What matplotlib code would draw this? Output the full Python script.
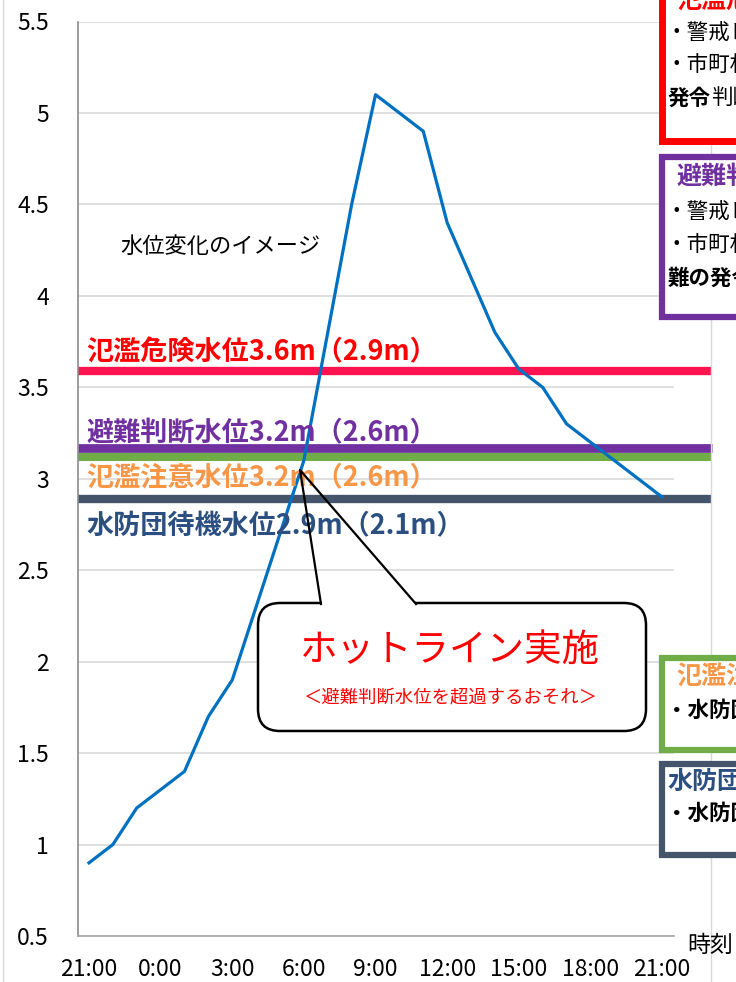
import numpy as np
import matplotlib.pyplot as plt
from matplotlib.patches import FancyBboxPatch, Rectangle

plt.rcParams['font.family'] = ['Noto Sans CJK JP', 'DejaVu Sans']

# --- data ---
hours = np.arange(0, 25)  # hours after 21:00
water_level = [0.9, 1.0, 1.2, 1.3, 1.4, 1.7, 1.9, 2.3, 2.7, 3.1, 3.8, 4.5, 5.1,
               5.0, 4.9, 4.4, 4.1, 3.8, 3.6, 3.5, 3.3, 3.2, 3.1, 3.0, 2.9]
tick_pos = np.arange(0, 25, 3)
tick_labels = ["21:00", "0:00", "3:00", "6:00", "9:00", "12:00", "15:00", "18:00", "21:00"]

level_values = [3.59, 3.17, 3.12, 2.89]
level_colors = ["#FF1450", "#7030A0", "#70AD47", "#44546A"]
level_widths = [6.0, 6.3, 5.8, 6.0]
level_texts = ["氾濫危険水位3.6m（2.9m）", "避難判断水位3.2m（2.6m）",
               "氾濫注意水位3.2m（2.6m）", "水防団待機水位2.9m（2.1m）"]
level_text_colors = ["#FF0000", "#7030A0", "#F79646", "#2B4F80"]
level_text_y = [3.69, 3.25, 3.01, 2.74]

W, H = 736, 982
fig = plt.figure(figsize=(W / 100, H / 100), dpi=100)
ax = fig.add_axes([78 / W, 1 - 936 / H, (674 - 78) / W, (936 - 21.5) / H])

ax.set_xlim(-0.46, 24.5)
ax.set_ylim(0.5, 5.5)
ax.set_yticks(np.arange(0.5, 5.51, 0.5))
ax.set_yticklabels(["0.5", "1", "1.5", "2", "2.5", "3", "3.5", "4", "4.5", "5", "5.5"])
ax.set_xticks(tick_pos)
ax.set_xticklabels(tick_labels)
ax.tick_params(axis='both', length=0, labelsize=16.5)
ax.tick_params(axis='y', pad=21)
ax.tick_params(axis='x', pad=16)
ax.grid(axis='y', color="#D9D9D9", lw=1.2)
ax.set_axisbelow(True)
for s in ["top", "right"]:
    ax.spines[s].set_visible(False)
ax.spines["left"].set_color("#8C8C8C")
ax.spines["bottom"].set_color("#A6A6A6")
ax.spines["left"].set_linewidth(1.2)
ax.spines["bottom"].set_linewidth(1.2)

for v, c, lw in zip(level_values, level_colors, level_widths):
    ax.axhline(v, xmin=0, xmax=(712 - 78) / (674 - 78), color=c, lw=lw,
               clip_on=False, zorder=2, solid_capstyle='butt')

ax.plot(hours, water_level, color="#0070C0", lw=2.3, zorder=3)

for t, c, y in zip(level_texts, level_text_colors, level_text_y):
    ax.text(-0.1, y, t, color=c, fontsize=19.5, fontweight='bold', zorder=4,
            va='center', ha='left')

ax.text(1.3, 4.27, "水位変化のイメージ", fontsize=16, va='center', zorder=4)

# --- overlay in pixel coordinates ---
ov = fig.add_axes([0, 0, 1, 1], facecolor='none', zorder=5)
ov.set_xlim(0, W)
ov.set_ylim(H, 0)
ov.axis('off')

ov.plot([3, 3], [0, H], color="#D9D9D9", lw=1)
ov.plot([711, 711], [0, H], color="#D9D9D9", lw=1)
ov.text(687, 945, "時刻", fontsize=16.5, va='center', ha='left')

# callout
box = FancyBboxPatch((258, 603), 388, 128, boxstyle="round,pad=0,rounding_size=22",
                     fc="white", ec="black", lw=1.8, zorder=6)
ov.add_patch(box)
ov.plot([322, 415], [603, 603], color="white", lw=3, zorder=7,
        solid_capstyle='butt')
ov.plot([321, 300, 416], [604, 470, 604], color="black", lw=1.6, zorder=8)
ov.text(450, 650, "ホットライン実施", color="#FF0000", fontsize=27, ha='center',
        va='center', zorder=9)
ov.text(450, 697, "＜避難判断水位を超過するおそれ＞", color="#FF0000", fontsize=13.2,
        ha='center', va='center', zorder=9)

# right-side boxes
boxes = [(-20, 141, "#FF0000", 5.0), (157, 317, "#7030A0", 4.5),
         (658, 750, "#70AD47", 4.5), (764, 855, "#44546A", 4.5)]
for y0, y1, c, lw in boxes:
    ov.add_patch(Rectangle((661.5, y0), 200, y1 - y0, fc="white", ec=c, lw=lw,
                           zorder=6, clip_on=False))

def tx(x, y, s, **kw):
    ov.text(x, y, s, va='center', ha='left', zorder=9, **kw)

tx(676, 2, "氾濫危険水位", color="#FF0000", fontsize=18, fontweight='bold')
tx(666, 33, "・警戒レベル4相当", fontsize=15.5)
tx(666, 65, "・市町村長の避難指示の", fontsize=15.5)
tx(668, 98, "発令", fontsize=15.5, fontweight='bold')
tx(711, 98, "判断の目安", fontsize=15.5)

tx(676, 177, "避難判断水位", color="#7030A0", fontsize=18, fontweight='bold')
tx(666, 212, "・警戒レベル3相当", fontsize=15.5)
tx(666, 245, "・市町村長の高齢者等避", fontsize=15.5)
tx(668, 278, "難の発令判断の目安", fontsize=15.5, fontweight='bold')

tx(676, 678, "氾濫注意水位", color="#F79646", fontsize=18, fontweight='bold')
tx(666, 710, "・水防団出動", fontsize=15.5, fontweight='bold')

tx(668, 782, "水防団待機水位", color="#2B4F80", fontsize=18, fontweight='bold')
tx(666, 813, "・水防団待機", fontsize=15.5, fontweight='bold')

fig.savefig("out.png", dpi=100)
